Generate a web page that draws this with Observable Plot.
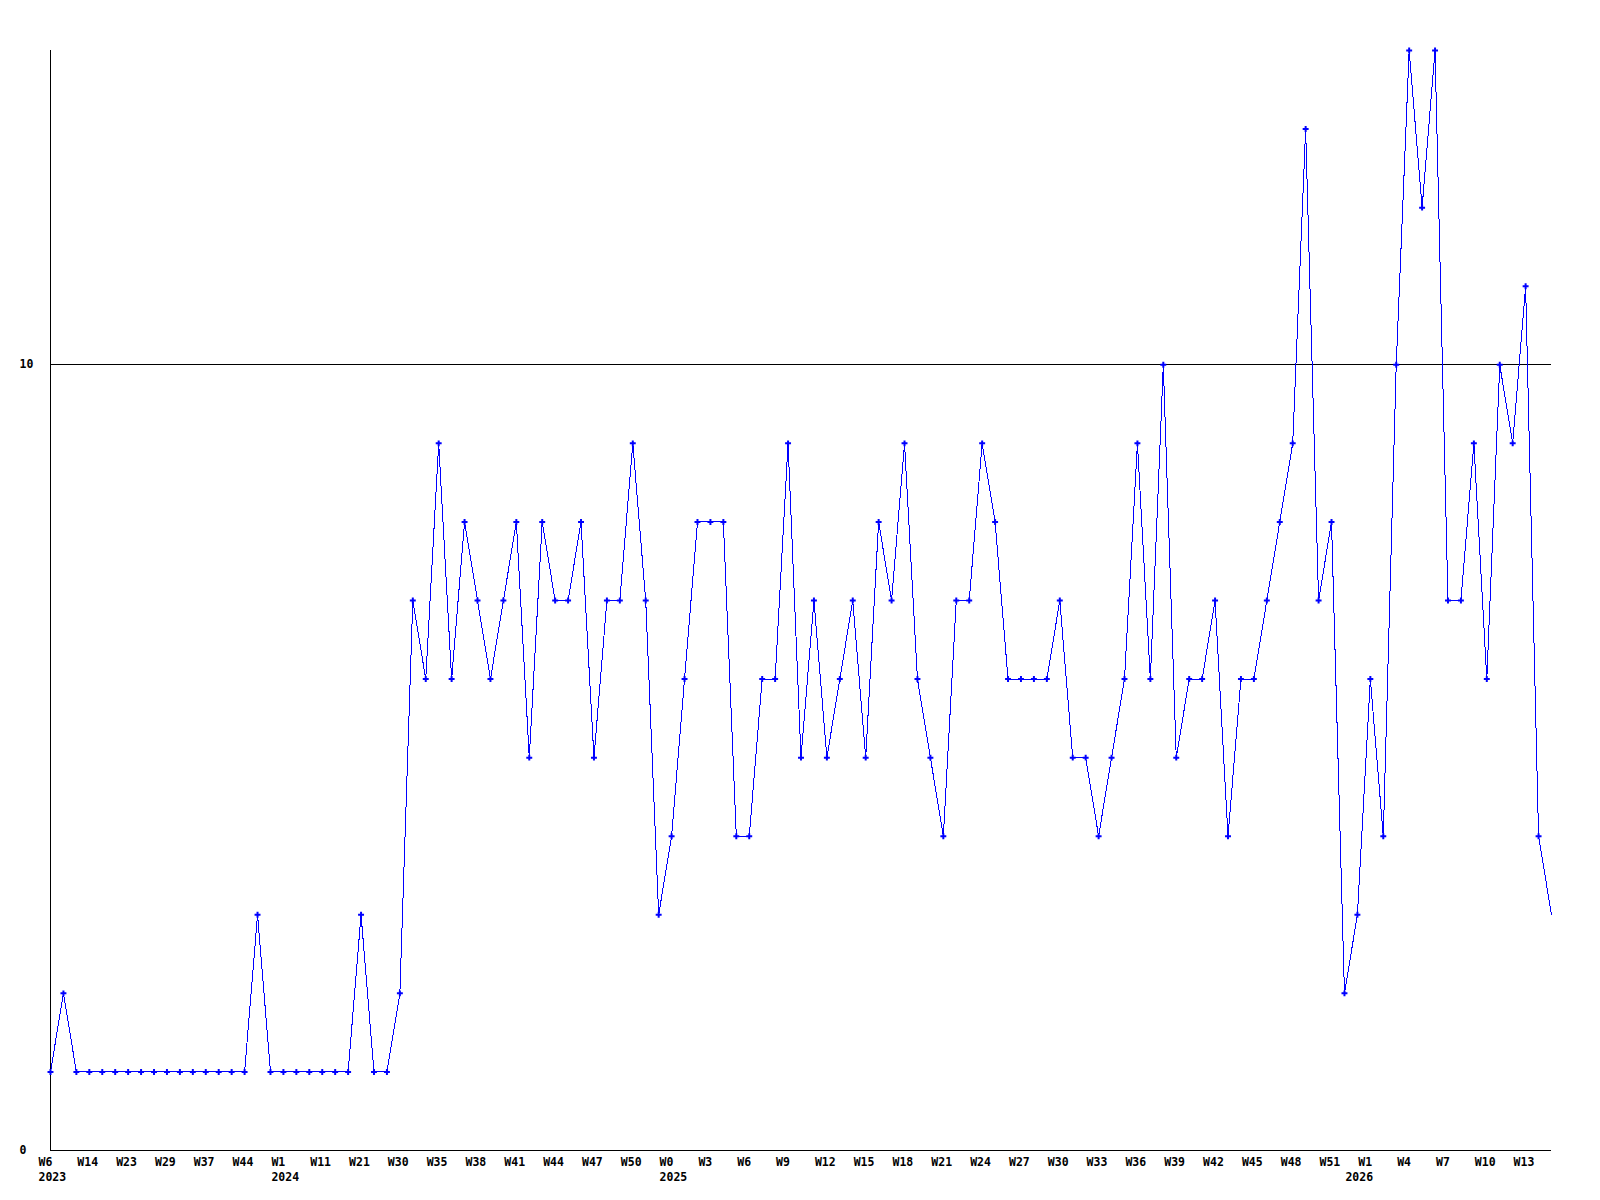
<!DOCTYPE html>
<html>
<head>
<meta charset="utf-8">
<script src="https://cdn.jsdelivr.net/npm/d3@7"></script>
<script src="https://cdn.jsdelivr.net/npm/@observablehq/plot@0.6"></script>
<style>
  html, body { margin: 0; padding: 0; background: #ffffff; }
  #chart svg { display: block; }
</style>
</head>
<body>
<div id="chart"></div>
<script>
// Weekly counts, one value per sample (ordinal x)
const values = [
  1, 2, 1, 1, 1, 1, 1, 1, 1, 1, 1, 1, 1, 1, 1, 1,
  3, 1, 1, 1, 1, 1, 1, 1, 3, 1, 1, 2,
  7, 6, 9, 6, 8, 7, 6, 7, 8, 5, 8, 7, 7, 8, 5, 7, 7, 9,
  7, 3, 4, 6, 8, 8, 8, 4, 4, 6, 6, 9, 5, 7, 5, 6, 7, 5, 8, 7, 9, 6, 5,
  4, 7, 7, 9, 8, 6, 6, 6, 6, 7, 5, 5, 4, 5, 6, 9, 6, 10, 5, 6, 6, 7, 4,
  6, 6, 7, 8, 9, 13, 7, 8, 2, 3, 6, 4, 10, 14, 12, 14, 7, 7, 9, 6, 10, 9, 11, 4, 3
];

// Week tick labels, one every third sample
const weekLabels = [
  "W6", "W14", "W23", "W29", "W37", "W44",
  "W1", "W11", "W21", "W30", "W35", "W38", "W41", "W44", "W47", "W50",
  "W0", "W3", "W6", "W9", "W12", "W15", "W18", "W21", "W24", "W27", "W30",
  "W33", "W36", "W39", "W42", "W45", "W48", "W51",
  "W1", "W4", "W7", "W10", "W13"
];
const tickEvery = 3;

// Year labels and the first sample of each year
const yearLabels = ["2023", "2024", "2025", "2026"];
const yearStartSample = [0, 18, 48, 101];

// Y axis labels / grid
const yTicks = [0, 10];
const gridValues = [10];

const data = values.map((v, i) => ({ i, v }));
const ticks = weekLabels.map((label, k) => ({ label, x: k * tickEvery }));
const years = yearLabels.map((label, k) => ({ label, x: yearStartSample[k] }));

const font = { fontFamily: "DejaVu Sans Mono", fontSize: 11.5, fontWeight: "bold", fill: "#000000" };

const chart = Plot.plot({
  width: 1600,
  height: 1200,
  marginLeft: 50,
  marginRight: 49,
  marginTop: 50,
  marginBottom: 50,
  style: { background: "#ffffff" },
  x: { domain: [0, values.length - 1], axis: null },
  y: { domain: [0, 14], axis: null },
  marks: [
    Plot.ruleY(gridValues, { stroke: "#000000", strokeWidth: 1, shapeRendering: "crispEdges" }),
    Plot.ruleY([0], { stroke: "#000000", strokeWidth: 1, shapeRendering: "crispEdges" }),
    Plot.ruleX([0], { stroke: "#000000", strokeWidth: 1, shapeRendering: "crispEdges" }),
    Plot.line(data, { x: "i", y: "v", stroke: "#0000ff", strokeWidth: 1, curve: "linear", shapeRendering: "crispEdges" }),
    Plot.dot(data.filter(d => d.i < values.length - 1), {
      x: "i", y: "v", symbol: "cross", r: 2.5, fill: "#0000ff", stroke: "none"
    }),
    Plot.text(ticks, {
      x: "x", text: "label", frameAnchor: "bottom", dy: 12, dx: -12,
      textAnchor: "start", lineAnchor: "middle", ...font
    }),
    Plot.text(years, {
      x: "x", text: "label", frameAnchor: "bottom", dy: 27, dx: -12,
      textAnchor: "start", lineAnchor: "middle", ...font
    }),
    Plot.text(yTicks, {
      y: d => d, text: d => String(d), frameAnchor: "left", dx: -31,
      textAnchor: "start", lineAnchor: "middle", ...font
    })
  ]
});

document.getElementById("chart").appendChild(chart);
</script>
</body>
</html>
